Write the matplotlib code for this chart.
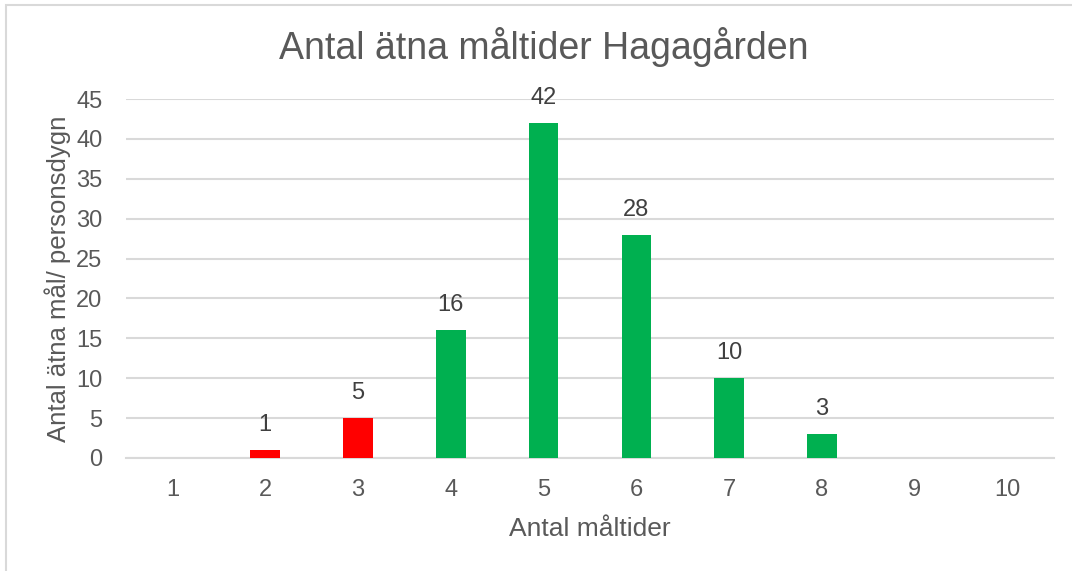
import matplotlib
matplotlib.use("Agg")
import matplotlib.pyplot as plt
from matplotlib.patches import Rectangle

categories = ["1", "2", "3", "4", "5", "6", "7", "8", "9", "10"]
values = [0, 1, 5, 16, 42, 28, 10, 3, 0, 0]
bar_colors = ["#00B050", "#FF0000", "#FF0000", "#00B050", "#00B050",
              "#00B050", "#00B050", "#00B050", "#00B050", "#00B050"]
yticks = [0, 5, 10, 15, 20, 25, 30, 35, 40, 45]

plt.rcParams['font.family'] = ['Liberation Sans', 'DejaVu Sans']
txt = "#595959"

fig = plt.figure(figsize=(10.72, 5.71), dpi=100)
fig.patches.append(Rectangle((6/1072, -0.1), 1.2, 1 - 5/571 + 0.1, transform=fig.transFigure,
                             fill=False, edgecolor="#D9D9D9", linewidth=1.5))
ax = fig.add_axes([126/1072, 1 - 458/571, (1054-126)/1072, (458-99)/571])

x = list(range(len(categories)))
bars = ax.bar(x, values, width=0.32, color=bar_colors, zorder=3)
for xi, v in zip(x, values):
    if v > 0:
        ax.annotate(str(v), (xi, v), xytext=(0, 10), textcoords="offset points",
                    ha="center", va="bottom", fontsize=17, color="#404040")

ax.set_xlim(-0.5, len(categories) - 0.5)
ax.set_ylim(0, 45)
ax.set_yticks(yticks)
ax.set_xticks(x)
ax.set_xticklabels(categories)
ax.grid(axis="y", color="#D9D9D9", linewidth=1.5, zorder=0)
for s in ["top", "right", "left"]:
    ax.spines[s].set_visible(False)
ax.spines["bottom"].set_color("#D9D9D9")
ax.spines["bottom"].set_linewidth(1.5)
ax.tick_params(length=0, labelsize=17, colors=txt)
ax.tick_params(axis="x", pad=15)
ax.tick_params(axis="y", pad=17)

ax.set_xlabel("Antal måltider", fontsize=19, color=txt, labelpad=12)
ax.set_ylabel("Antal ätna mål/ personsdygn", fontsize=18.5, color=txt, labelpad=4)
fig.text(544/1072, 1 - 47/571, "Antal ätna måltider Hagagården", fontsize=27,
         color=txt, ha="center", va="center")

fig.savefig("out.png", dpi=100)
